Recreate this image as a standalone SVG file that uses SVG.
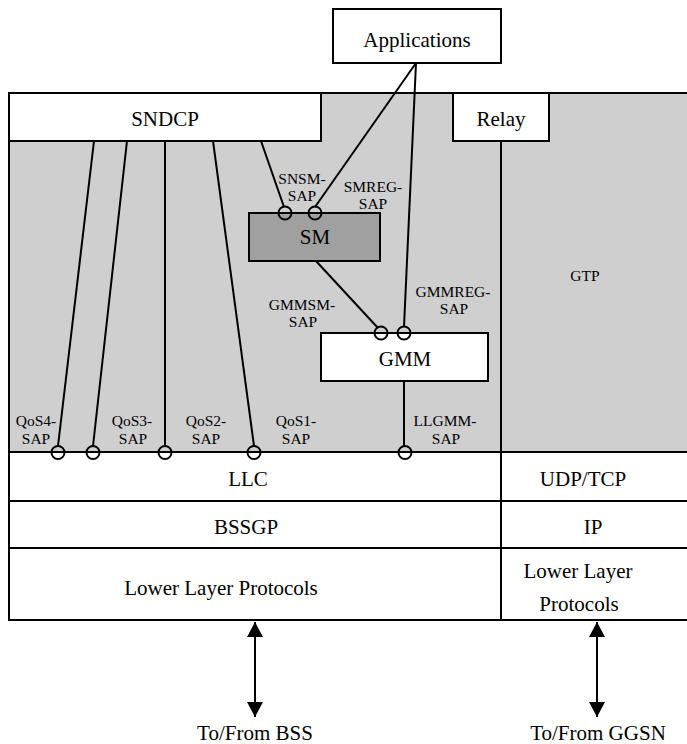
<svg xmlns="http://www.w3.org/2000/svg" width="687" height="744" viewBox="0 0 687 744">
  <style>
    .box { stroke: #000; stroke-width: 2; }
    .white { fill: #fff; }
    .gray { fill: #cfcfcf; }
    .dark { fill: #a0a0a0; }
    .ln { stroke: #000; stroke-width: 2; fill: none; }
    .sap { stroke: #000; stroke-width: 2; fill: none; }
    .t { font-family: "Liberation Serif", "Times New Roman", "DejaVu Serif", serif; font-size: 21px; text-anchor: middle; fill: #000; }
    .s { font-family: "Liberation Serif", "Times New Roman", "DejaVu Serif", serif; font-size: 15.5px; text-anchor: middle; fill: #000; }
  </style>
  <defs>
    <marker id="ah" markerWidth="15" markerHeight="16" refX="15" refY="8" orient="auto-start-reverse" markerUnits="userSpaceOnUse" viewBox="0 0 15 16">
      <path d="M0,0 L15,8 L0,16 z" fill="#000"/>
    </marker>
  </defs>

  <!-- SGSN stack frame: gray control area and protocol rows -->
  <g id="frame">
    <rect class="box gray" x="9" y="93" width="690" height="359"/>
    <rect class="box white" x="9" y="452" width="690" height="168"/>
    <line class="ln" x1="9" y1="501" x2="699" y2="501"/>
    <line class="ln" x1="9" y1="548" x2="699" y2="548"/>
    <line class="ln" x1="501" y1="141" x2="501" y2="620"/>
  </g>

  <g id="applications">
    <rect class="box white" x="333" y="9" width="168" height="54"/>
    <text class="t" x="417" y="47">Applications</text>
  </g>
  <g id="sndcp">
    <rect class="box white" x="9" y="93" width="312" height="48"/>
    <text class="t" x="165" y="126">SNDCP</text>
  </g>
  <g id="relay">
    <rect class="box white" x="453" y="93" width="96" height="48"/>
    <text class="t" x="501" y="126">Relay</text>
  </g>
  <g id="gtp">
    <text class="s" x="585" y="281">GTP</text>
  </g>
  <g id="sm">
    <rect class="box dark" x="249" y="213" width="131" height="48"/>
    <text class="t" x="315" y="244">SM</text>
  </g>
  <g id="gmm">
    <rect class="box white" x="321" y="333" width="167" height="48"/>
    <text class="t" x="405" y="366">GMM</text>
  </g>
  <g id="llc">
    <text class="t" x="248" y="486">LLC</text>
  </g>
  <g id="udptcp">
    <text class="t" x="583" y="486">UDP/TCP</text>
  </g>
  <g id="bssgp">
    <text class="t" x="246" y="534">BSSGP</text>
  </g>
  <g id="ip">
    <text class="t" x="593" y="534">IP</text>
  </g>
  <g id="lower-bss">
    <text class="t" x="221" y="595">Lower Layer Protocols</text>
  </g>
  <g id="lower-ggsn">
    <text class="t" x="578" y="578">Lower Layer</text>
    <text class="t" x="579" y="611">Protocols</text>
  </g>

  <!-- connectors and service access points -->
  <g id="connectors">
    <line class="ln" x1="94" y1="141" x2="58" y2="446"/>
    <line class="ln" x1="127" y1="141" x2="93" y2="446"/>
    <line class="ln" x1="165" y1="141" x2="165" y2="446"/>
    <line class="ln" x1="213" y1="141" x2="254" y2="446"/>
    <line class="ln" x1="261" y1="141" x2="284" y2="207"/>
    <line class="ln" x1="416" y1="63" x2="315" y2="207"/>
    <line class="ln" x1="416" y1="63" x2="404" y2="327"/>
    <line class="ln" x1="316" y1="261" x2="378" y2="328"/>
    <line class="ln" x1="404" y1="381" x2="404" y2="446"/>

    <circle class="sap" cx="285" cy="213" r="6.5"/>
    <circle class="sap" cx="315" cy="213" r="6.5"/>
    <circle class="sap" cx="381" cy="333" r="6.5"/>
    <circle class="sap" cx="404" cy="333" r="6.5"/>
    <circle class="sap" cx="58" cy="452.5" r="6.5"/>
    <circle class="sap" cx="93" cy="452.5" r="6.5"/>
    <circle class="sap" cx="165" cy="452.5" r="6.5"/>
    <circle class="sap" cx="254" cy="452.5" r="6.5"/>
    <circle class="sap" cx="405" cy="452.5" r="6.5"/>

    <line class="ln" x1="255" y1="622" x2="255" y2="717" marker-start="url(#ah)" marker-end="url(#ah)"/>
    <line class="ln" x1="597" y1="622" x2="597" y2="717" marker-start="url(#ah)" marker-end="url(#ah)"/>
  </g>

  <!-- SAP labels -->
  <g id="sap-labels">
    <text class="s" x="302" y="184">SNSM-</text>
    <text class="s" x="302" y="201">SAP</text>
    <text class="s" x="373" y="192">SMREG-</text>
    <text class="s" x="373" y="209">SAP</text>
    <text class="s" x="302" y="310">GMMSM-</text>
    <text class="s" x="303" y="327">SAP</text>
    <text class="s" x="453" y="297">GMMREG-</text>
    <text class="s" x="454" y="314">SAP</text>
    <text class="s" x="36" y="426">QoS4-</text>
    <text class="s" x="36" y="444">SAP</text>
    <text class="s" x="132" y="426">QoS3-</text>
    <text class="s" x="133" y="444">SAP</text>
    <text class="s" x="206" y="426">QoS2-</text>
    <text class="s" x="206" y="444">SAP</text>
    <text class="s" x="296" y="426">QoS1-</text>
    <text class="s" x="296" y="444">SAP</text>
    <text class="s" x="445" y="426">LLGMM-</text>
    <text class="s" x="446" y="444">SAP</text>
  </g>

  <g id="endpoints">
    <text class="t" x="255" y="740">To/From BSS</text>
    <text class="t" x="598" y="740">To/From GGSN</text>
  </g>
</svg>
